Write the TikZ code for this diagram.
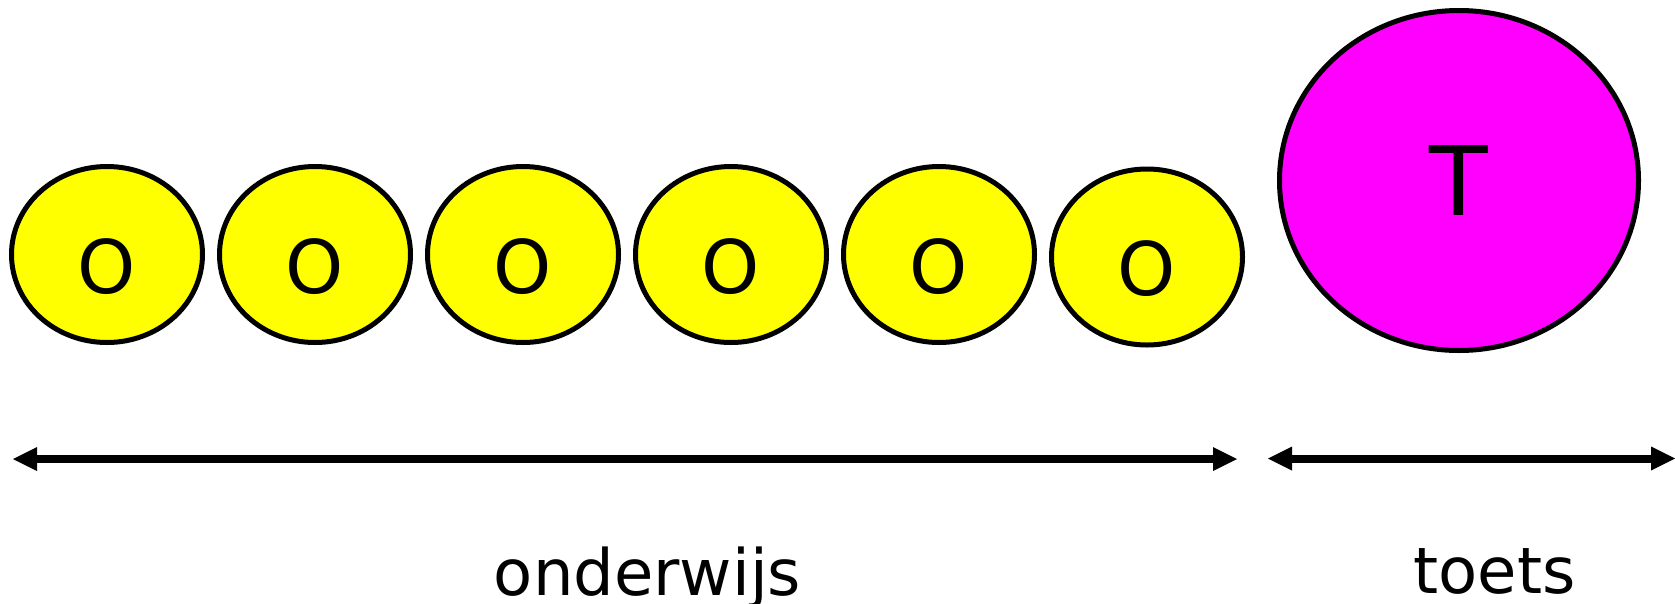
\documentclass[tikz,border=0pt]{standalone}
\usepackage{fontspec}
\setmainfont{DejaVu Sans}
\usetikzlibrary{arrows.meta,shapes.geometric}
\definecolor{ovalyellow}{HTML}{FFFF00}
\definecolor{ovalmagenta}{HTML}{FF00FF}
\begin{document}
\begin{tikzpicture}[x=1pt,y=-1pt,
  oval/.style={ellipse,draw=black,line width=5pt,inner sep=0pt},
  smalloval/.style={oval,fill=ovalyellow,minimum width=191pt,minimum height=176pt,
    font=\fontsize{74}{74}\selectfont,text height=77pt,text depth=0pt},
  bigoval/.style={oval,fill=ovalmagenta,minimum width=359pt,minimum height=340pt,
    font=\fontsize{96}{96}\selectfont},
  span/.style={line width=8pt,{Triangle[length=24pt,width=24pt,line width=0pt]}-{Triangle[length=24pt,width=24pt,line width=0pt]}},
  caption/.style={anchor=base,inner sep=0pt,font=\fontsize{64}{64}\selectfont}]
\useasboundingbox (0,0) rectangle (1675,603);
\node[smalloval] (o1) at (107,254.5) {O};
\node[smalloval] (o2) at (315,254.5) {O};
\node[smalloval] (o3) at (523,254.5) {O};
\node[smalloval] (o4) at (731,254.5) {O};
\node[smalloval] (o5) at (939,254.5) {O};
\node[smalloval] (o6) at (1147,257) {O};
\node[bigoval] (t) at (1459,180.5) {T};
\coordinate (a1) at (13,459);
\coordinate (a2) at (1237,459);
\coordinate (b1) at (1268,458.5);
\coordinate (b2) at (1675,458.5);
\draw[span] (a1) -- (a2);
\draw[span] (b1) -- (b2);
\node[caption] (l1) at (647.5,595) {onderwijs};
\node[caption] (l2) at (1494.5,593) {toets};
\end{tikzpicture}
\end{document}
